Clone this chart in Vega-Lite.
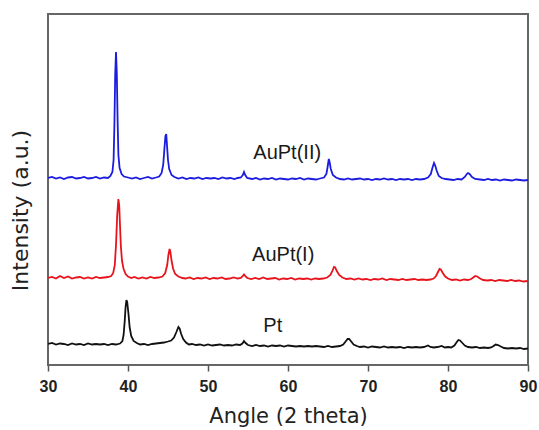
{
  "$schema": "https://vega.github.io/schema/vega-lite/v6.json",
  "width": 480,
  "height": 351,
  "autosize": {"type": "none"},
  "padding": {"left": 48, "top": 14, "right": 11, "bottom": 65},
  "config": {
    "view": {"stroke": "#666666", "strokeWidth": 2},
    "font": "Liberation Sans"
  },
  "layer": [
    {
      "data": {
        "values": [
          {"s":"AuPt(II)","x":30,"y":187},{"s":"AuPt(II)","x":30.5,"y":188},{"s":"AuPt(II)","x":31,"y":186.5},{"s":"AuPt(II)","x":31.5,"y":187.5},{"s":"AuPt(II)","x":32,"y":186},{"s":"AuPt(II)","x":32.5,"y":187.5},{"s":"AuPt(II)","x":33,"y":188},{"s":"AuPt(II)","x":33.5,"y":186.5},{"s":"AuPt(II)","x":34,"y":187},{"s":"AuPt(II)","x":34.5,"y":188},{"s":"AuPt(II)","x":35,"y":186.5},{"s":"AuPt(II)","x":35.5,"y":187},{"s":"AuPt(II)","x":36,"y":188},{"s":"AuPt(II)","x":36.5,"y":186.5},{"s":"AuPt(II)","x":37,"y":187.5},{"s":"AuPt(II)","x":37.5,"y":187},
          {"s":"AuPt(II)","x":37.8,"y":189},{"s":"AuPt(II)","x":38.05,"y":193},{"s":"AuPt(II)","x":38.2,"y":205},{"s":"AuPt(II)","x":38.3,"y":240},{"s":"AuPt(II)","x":38.4,"y":290},{"s":"AuPt(II)","x":38.5,"y":313},{"s":"AuPt(II)","x":38.6,"y":292},{"s":"AuPt(II)","x":38.7,"y":245},{"s":"AuPt(II)","x":38.8,"y":210},{"s":"AuPt(II)","x":38.95,"y":197},{"s":"AuPt(II)","x":39.2,"y":191},{"s":"AuPt(II)","x":39.5,"y":188.5},
          {"s":"AuPt(II)","x":40,"y":187.5},{"s":"AuPt(II)","x":40.5,"y":186.5},{"s":"AuPt(II)","x":41,"y":187.5},{"s":"AuPt(II)","x":41.5,"y":186},{"s":"AuPt(II)","x":42,"y":187},{"s":"AuPt(II)","x":42.5,"y":188},{"s":"AuPt(II)","x":43,"y":186.5},{"s":"AuPt(II)","x":43.5,"y":187.5},
          {"s":"AuPt(II)","x":43.9,"y":188.5},{"s":"AuPt(II)","x":44.2,"y":192},{"s":"AuPt(II)","x":44.4,"y":200},{"s":"AuPt(II)","x":44.55,"y":216},{"s":"AuPt(II)","x":44.68,"y":229},{"s":"AuPt(II)","x":44.78,"y":231},{"s":"AuPt(II)","x":44.88,"y":219},{"s":"AuPt(II)","x":45.0,"y":205},{"s":"AuPt(II)","x":45.15,"y":196},{"s":"AuPt(II)","x":45.45,"y":190},{"s":"AuPt(II)","x":45.8,"y":188},
          {"s":"AuPt(II)","x":46.3,"y":186.5},{"s":"AuPt(II)","x":46.8,"y":187.5},{"s":"AuPt(II)","x":47.3,"y":186},{"s":"AuPt(II)","x":47.8,"y":187},{"s":"AuPt(II)","x":48.3,"y":186.5},{"s":"AuPt(II)","x":48.8,"y":187.5},{"s":"AuPt(II)","x":49.3,"y":186},{"s":"AuPt(II)","x":49.8,"y":187},{"s":"AuPt(II)","x":50.3,"y":186.5},{"s":"AuPt(II)","x":50.8,"y":187},{"s":"AuPt(II)","x":51.3,"y":186},{"s":"AuPt(II)","x":51.8,"y":187.5},{"s":"AuPt(II)","x":52.3,"y":186.5},{"s":"AuPt(II)","x":52.8,"y":187},{"s":"AuPt(II)","x":53.3,"y":186},{"s":"AuPt(II)","x":53.7,"y":187},
          {"s":"AuPt(II)","x":54.1,"y":187.5},{"s":"AuPt(II)","x":54.35,"y":190},{"s":"AuPt(II)","x":54.5,"y":193},{"s":"AuPt(II)","x":54.65,"y":190},{"s":"AuPt(II)","x":54.9,"y":187},
          {"s":"AuPt(II)","x":55.5,"y":186},{"s":"AuPt(II)","x":56,"y":187},{"s":"AuPt(II)","x":56.5,"y":185.5},{"s":"AuPt(II)","x":57,"y":186.5},{"s":"AuPt(II)","x":57.5,"y":186},{"s":"AuPt(II)","x":58,"y":187},{"s":"AuPt(II)","x":58.5,"y":185.5},{"s":"AuPt(II)","x":59,"y":186.5},{"s":"AuPt(II)","x":59.5,"y":186},{"s":"AuPt(II)","x":60,"y":185.5},{"s":"AuPt(II)","x":60.5,"y":186.5},{"s":"AuPt(II)","x":61,"y":186},{"s":"AuPt(II)","x":61.5,"y":187},{"s":"AuPt(II)","x":62,"y":185.5},{"s":"AuPt(II)","x":62.5,"y":186.5},{"s":"AuPt(II)","x":63,"y":186},{"s":"AuPt(II)","x":63.5,"y":185.5},{"s":"AuPt(II)","x":64,"y":186.5},
          {"s":"AuPt(II)","x":64.5,"y":187.5},{"s":"AuPt(II)","x":64.8,"y":191},{"s":"AuPt(II)","x":64.95,"y":198},{"s":"AuPt(II)","x":65.1,"y":206},{"s":"AuPt(II)","x":65.2,"y":203},{"s":"AuPt(II)","x":65.35,"y":196},{"s":"AuPt(II)","x":65.6,"y":190},{"s":"AuPt(II)","x":66.0,"y":187.5},
          {"s":"AuPt(II)","x":66.5,"y":186},{"s":"AuPt(II)","x":67,"y":185.5},{"s":"AuPt(II)","x":67.5,"y":186.5},{"s":"AuPt(II)","x":68,"y":185.5},{"s":"AuPt(II)","x":68.5,"y":186},{"s":"AuPt(II)","x":69,"y":186.5},{"s":"AuPt(II)","x":69.5,"y":185.5},{"s":"AuPt(II)","x":70,"y":186},{"s":"AuPt(II)","x":70.5,"y":185},{"s":"AuPt(II)","x":71,"y":186},{"s":"AuPt(II)","x":71.5,"y":185.5},{"s":"AuPt(II)","x":72,"y":186.5},{"s":"AuPt(II)","x":72.5,"y":185.5},{"s":"AuPt(II)","x":73,"y":186},{"s":"AuPt(II)","x":73.5,"y":185},{"s":"AuPt(II)","x":74,"y":186},{"s":"AuPt(II)","x":74.5,"y":185.5},{"s":"AuPt(II)","x":75,"y":186},{"s":"AuPt(II)","x":75.5,"y":185},{"s":"AuPt(II)","x":76,"y":186},{"s":"AuPt(II)","x":76.5,"y":185.5},{"s":"AuPt(II)","x":77,"y":186},
          {"s":"AuPt(II)","x":77.5,"y":187.5},{"s":"AuPt(II)","x":77.85,"y":191},{"s":"AuPt(II)","x":78.05,"y":197},{"s":"AuPt(II)","x":78.25,"y":202},{"s":"AuPt(II)","x":78.4,"y":199.5},{"s":"AuPt(II)","x":78.6,"y":194},{"s":"AuPt(II)","x":78.85,"y":189},{"s":"AuPt(II)","x":79.2,"y":187},
          {"s":"AuPt(II)","x":79.7,"y":186},{"s":"AuPt(II)","x":80.2,"y":185.5},{"s":"AuPt(II)","x":80.7,"y":185},{"s":"AuPt(II)","x":81.2,"y":186},{"s":"AuPt(II)","x":81.7,"y":185.5},
          {"s":"AuPt(II)","x":82.1,"y":188},{"s":"AuPt(II)","x":82.35,"y":191},{"s":"AuPt(II)","x":82.5,"y":192},{"s":"AuPt(II)","x":82.7,"y":191},{"s":"AuPt(II)","x":83.0,"y":188},{"s":"AuPt(II)","x":83.4,"y":186},
          {"s":"AuPt(II)","x":84,"y":185.5},{"s":"AuPt(II)","x":84.5,"y":185},{"s":"AuPt(II)","x":85,"y":186},{"s":"AuPt(II)","x":85.5,"y":185},{"s":"AuPt(II)","x":86,"y":185.5},{"s":"AuPt(II)","x":86.5,"y":184.5},{"s":"AuPt(II)","x":87,"y":185.5},{"s":"AuPt(II)","x":87.5,"y":185},{"s":"AuPt(II)","x":88,"y":184.5},{"s":"AuPt(II)","x":88.5,"y":185.5},{"s":"AuPt(II)","x":89,"y":185},{"s":"AuPt(II)","x":89.5,"y":184.5},{"s":"AuPt(II)","x":90,"y":185},

          {"s":"AuPt(I)","x":30,"y":87},{"s":"AuPt(I)","x":30.5,"y":88},{"s":"AuPt(I)","x":31,"y":86.5},{"s":"AuPt(I)","x":31.5,"y":89},{"s":"AuPt(I)","x":32,"y":87},{"s":"AuPt(I)","x":32.5,"y":88.5},{"s":"AuPt(I)","x":33,"y":86.5},{"s":"AuPt(I)","x":33.5,"y":87.5},{"s":"AuPt(I)","x":34,"y":88},{"s":"AuPt(I)","x":34.5,"y":86.5},{"s":"AuPt(I)","x":35,"y":87.5},{"s":"AuPt(I)","x":35.5,"y":86.5},{"s":"AuPt(I)","x":36,"y":88},{"s":"AuPt(I)","x":36.5,"y":87},{"s":"AuPt(I)","x":37,"y":87.5},{"s":"AuPt(I)","x":37.5,"y":88},
          {"s":"AuPt(I)","x":37.9,"y":89},{"s":"AuPt(I)","x":38.15,"y":92},{"s":"AuPt(I)","x":38.35,"y":100},{"s":"AuPt(I)","x":38.5,"y":120},{"s":"AuPt(I)","x":38.65,"y":150},{"s":"AuPt(I)","x":38.8,"y":166},{"s":"AuPt(I)","x":38.9,"y":160},{"s":"AuPt(I)","x":39.0,"y":140},{"s":"AuPt(I)","x":39.1,"y":120},{"s":"AuPt(I)","x":39.25,"y":104},{"s":"AuPt(I)","x":39.45,"y":96},{"s":"AuPt(I)","x":39.7,"y":91},{"s":"AuPt(I)","x":40.0,"y":88.5},
          {"s":"AuPt(I)","x":40.4,"y":87},{"s":"AuPt(I)","x":40.8,"y":88},{"s":"AuPt(I)","x":41.3,"y":86.5},{"s":"AuPt(I)","x":41.8,"y":87.5},{"s":"AuPt(I)","x":42.3,"y":86.5},{"s":"AuPt(I)","x":42.8,"y":88},{"s":"AuPt(I)","x":43.3,"y":87},{"s":"AuPt(I)","x":43.8,"y":87.5},
          {"s":"AuPt(I)","x":44.3,"y":88.5},{"s":"AuPt(I)","x":44.65,"y":92},{"s":"AuPt(I)","x":44.9,"y":100},{"s":"AuPt(I)","x":45.05,"y":110},{"s":"AuPt(I)","x":45.2,"y":116},{"s":"AuPt(I)","x":45.3,"y":113},{"s":"AuPt(I)","x":45.45,"y":104},{"s":"AuPt(I)","x":45.65,"y":96},{"s":"AuPt(I)","x":45.9,"y":91},{"s":"AuPt(I)","x":46.3,"y":88.5},
          {"s":"AuPt(I)","x":46.8,"y":87},{"s":"AuPt(I)","x":47.2,"y":86.5},{"s":"AuPt(I)","x":47.7,"y":87.5},{"s":"AuPt(I)","x":48.2,"y":86},{"s":"AuPt(I)","x":48.7,"y":87},{"s":"AuPt(I)","x":49.2,"y":86.5},{"s":"AuPt(I)","x":49.7,"y":87.5},{"s":"AuPt(I)","x":50.2,"y":86},{"s":"AuPt(I)","x":50.7,"y":87},{"s":"AuPt(I)","x":51.2,"y":86.5},{"s":"AuPt(I)","x":51.7,"y":87.5},{"s":"AuPt(I)","x":52.2,"y":86},{"s":"AuPt(I)","x":52.7,"y":86.5},{"s":"AuPt(I)","x":53.2,"y":87.5},{"s":"AuPt(I)","x":53.7,"y":86.5},
          {"s":"AuPt(I)","x":54.1,"y":87},{"s":"AuPt(I)","x":54.35,"y":89},{"s":"AuPt(I)","x":54.5,"y":90.5},{"s":"AuPt(I)","x":54.65,"y":89},{"s":"AuPt(I)","x":54.9,"y":87},
          {"s":"AuPt(I)","x":55.4,"y":86},{"s":"AuPt(I)","x":55.9,"y":87},{"s":"AuPt(I)","x":56.4,"y":86},{"s":"AuPt(I)","x":56.9,"y":87.5},{"s":"AuPt(I)","x":57.4,"y":86},{"s":"AuPt(I)","x":57.9,"y":86.5},{"s":"AuPt(I)","x":58.4,"y":87},{"s":"AuPt(I)","x":58.9,"y":85.5},{"s":"AuPt(I)","x":59.4,"y":86.5},{"s":"AuPt(I)","x":59.9,"y":86},{"s":"AuPt(I)","x":60.4,"y":87},{"s":"AuPt(I)","x":60.9,"y":85.5},{"s":"AuPt(I)","x":61.4,"y":86.5},{"s":"AuPt(I)","x":61.9,"y":86},{"s":"AuPt(I)","x":62.4,"y":86.5},{"s":"AuPt(I)","x":62.9,"y":85.5},{"s":"AuPt(I)","x":63.4,"y":86.5},{"s":"AuPt(I)","x":63.9,"y":86},{"s":"AuPt(I)","x":64.4,"y":86.5},
          {"s":"AuPt(I)","x":64.9,"y":87.5},{"s":"AuPt(I)","x":65.3,"y":90},{"s":"AuPt(I)","x":65.55,"y":94},{"s":"AuPt(I)","x":65.75,"y":98},{"s":"AuPt(I)","x":65.9,"y":97.5},{"s":"AuPt(I)","x":66.1,"y":94},{"s":"AuPt(I)","x":66.4,"y":90},{"s":"AuPt(I)","x":66.8,"y":87.5},
          {"s":"AuPt(I)","x":67.3,"y":86},{"s":"AuPt(I)","x":67.8,"y":86.5},{"s":"AuPt(I)","x":68.3,"y":85.5},{"s":"AuPt(I)","x":68.8,"y":86.5},{"s":"AuPt(I)","x":69.3,"y":85.5},{"s":"AuPt(I)","x":69.8,"y":86},{"s":"AuPt(I)","x":70.3,"y":85},{"s":"AuPt(I)","x":70.8,"y":86},{"s":"AuPt(I)","x":71.3,"y":85.5},{"s":"AuPt(I)","x":71.8,"y":86.5},{"s":"AuPt(I)","x":72.3,"y":85},{"s":"AuPt(I)","x":72.8,"y":86},{"s":"AuPt(I)","x":73.3,"y":85.5},{"s":"AuPt(I)","x":73.8,"y":85},{"s":"AuPt(I)","x":74.3,"y":86},{"s":"AuPt(I)","x":74.8,"y":85},{"s":"AuPt(I)","x":75.3,"y":85.5},{"s":"AuPt(I)","x":75.8,"y":86},{"s":"AuPt(I)","x":76.3,"y":85},{"s":"AuPt(I)","x":76.8,"y":85.5},{"s":"AuPt(I)","x":77.3,"y":85},{"s":"AuPt(I)","x":77.8,"y":85.5},
          {"s":"AuPt(I)","x":78.2,"y":86.5},{"s":"AuPt(I)","x":78.5,"y":89},{"s":"AuPt(I)","x":78.75,"y":93},{"s":"AuPt(I)","x":78.95,"y":96},{"s":"AuPt(I)","x":79.1,"y":95.5},{"s":"AuPt(I)","x":79.35,"y":92},{"s":"AuPt(I)","x":79.65,"y":88.5},{"s":"AuPt(I)","x":80.0,"y":86.5},
          {"s":"AuPt(I)","x":80.5,"y":85},{"s":"AuPt(I)","x":81,"y":85.5},{"s":"AuPt(I)","x":81.5,"y":84.5},{"s":"AuPt(I)","x":82,"y":85.5},{"s":"AuPt(I)","x":82.5,"y":85},
          {"s":"AuPt(I)","x":82.9,"y":86},{"s":"AuPt(I)","x":83.15,"y":87.5},{"s":"AuPt(I)","x":83.4,"y":89},{"s":"AuPt(I)","x":83.65,"y":88.5},{"s":"AuPt(I)","x":84.0,"y":86.5},{"s":"AuPt(I)","x":84.4,"y":85},
          {"s":"AuPt(I)","x":84.9,"y":84.5},{"s":"AuPt(I)","x":85.4,"y":85},{"s":"AuPt(I)","x":85.9,"y":84},{"s":"AuPt(I)","x":86.4,"y":85},{"s":"AuPt(I)","x":86.9,"y":84.5},{"s":"AuPt(I)","x":87.4,"y":84},{"s":"AuPt(I)","x":87.9,"y":85},{"s":"AuPt(I)","x":88.4,"y":84},{"s":"AuPt(I)","x":88.9,"y":84.5},{"s":"AuPt(I)","x":89.4,"y":83.5},{"s":"AuPt(I)","x":90,"y":84},

          {"s":"Pt","x":30,"y":21},{"s":"Pt","x":30.5,"y":22},{"s":"Pt","x":31,"y":20.5},{"s":"Pt","x":31.5,"y":21.5},{"s":"Pt","x":32,"y":21},{"s":"Pt","x":32.5,"y":20},{"s":"Pt","x":33,"y":21.5},{"s":"Pt","x":33.5,"y":20.5},{"s":"Pt","x":34,"y":21},{"s":"Pt","x":34.5,"y":20},{"s":"Pt","x":35,"y":21.5},{"s":"Pt","x":35.5,"y":20.5},{"s":"Pt","x":36,"y":21},{"s":"Pt","x":36.5,"y":20.5},{"s":"Pt","x":37,"y":21},{"s":"Pt","x":37.5,"y":20},{"s":"Pt","x":38,"y":21},{"s":"Pt","x":38.5,"y":20.5},{"s":"Pt","x":39,"y":21.5},
          {"s":"Pt","x":39.3,"y":24},{"s":"Pt","x":39.45,"y":30},{"s":"Pt","x":39.6,"y":45},{"s":"Pt","x":39.7,"y":58},{"s":"Pt","x":39.8,"y":65},{"s":"Pt","x":39.9,"y":63},{"s":"Pt","x":40.05,"y":52},{"s":"Pt","x":40.2,"y":38},{"s":"Pt","x":40.4,"y":29},{"s":"Pt","x":40.7,"y":24},{"s":"Pt","x":41.1,"y":22},
          {"s":"Pt","x":41.5,"y":20.5},{"s":"Pt","x":42,"y":21},{"s":"Pt","x":42.5,"y":20},{"s":"Pt","x":43,"y":21},{"s":"Pt","x":43.5,"y":21.5},{"s":"Pt","x":44,"y":22},{"s":"Pt","x":44.5,"y":22.5},{"s":"Pt","x":45,"y":23.5},
          {"s":"Pt","x":45.4,"y":24.5},{"s":"Pt","x":45.75,"y":27.5},{"s":"Pt","x":46.05,"y":33},{"s":"Pt","x":46.3,"y":38},{"s":"Pt","x":46.45,"y":36.5},{"s":"Pt","x":46.65,"y":31},{"s":"Pt","x":46.9,"y":26},{"s":"Pt","x":47.25,"y":22.5},
          {"s":"Pt","x":47.6,"y":20.5},{"s":"Pt","x":48,"y":21},{"s":"Pt","x":48.5,"y":20},{"s":"Pt","x":49,"y":20.5},{"s":"Pt","x":49.5,"y":19.5},{"s":"Pt","x":50,"y":20.5},{"s":"Pt","x":50.5,"y":19.5},{"s":"Pt","x":51,"y":20},{"s":"Pt","x":51.5,"y":20.5},{"s":"Pt","x":52,"y":19.5},{"s":"Pt","x":52.5,"y":20},{"s":"Pt","x":53,"y":19.5},{"s":"Pt","x":53.5,"y":20.5},{"s":"Pt","x":54,"y":20},
          {"s":"Pt","x":54.3,"y":21.5},{"s":"Pt","x":54.5,"y":24},{"s":"Pt","x":54.7,"y":22},{"s":"Pt","x":55.0,"y":20},
          {"s":"Pt","x":55.5,"y":19},{"s":"Pt","x":56,"y":20},{"s":"Pt","x":56.5,"y":19},{"s":"Pt","x":57,"y":19.5},{"s":"Pt","x":57.5,"y":18.5},{"s":"Pt","x":58,"y":19.5},{"s":"Pt","x":58.5,"y":19},{"s":"Pt","x":59,"y":19.5},{"s":"Pt","x":59.5,"y":18.5},{"s":"Pt","x":60,"y":19.5},{"s":"Pt","x":60.5,"y":19},{"s":"Pt","x":61,"y":18.5},{"s":"Pt","x":61.5,"y":19},{"s":"Pt","x":62,"y":18.5},{"s":"Pt","x":62.5,"y":19},{"s":"Pt","x":63,"y":18.5},{"s":"Pt","x":63.5,"y":19},{"s":"Pt","x":64,"y":18.5},{"s":"Pt","x":64.5,"y":18},{"s":"Pt","x":65,"y":19},{"s":"Pt","x":65.5,"y":18},{"s":"Pt","x":66,"y":18.5},{"s":"Pt","x":66.5,"y":19},
          {"s":"Pt","x":66.9,"y":20.5},{"s":"Pt","x":67.2,"y":23.5},{"s":"Pt","x":67.45,"y":26},{"s":"Pt","x":67.65,"y":26},{"s":"Pt","x":67.9,"y":23.5},{"s":"Pt","x":68.2,"y":20.5},{"s":"Pt","x":68.6,"y":19},
          {"s":"Pt","x":69,"y":18},{"s":"Pt","x":69.5,"y":18.5},{"s":"Pt","x":70,"y":17.5},{"s":"Pt","x":70.5,"y":18.5},{"s":"Pt","x":71,"y":18},{"s":"Pt","x":71.5,"y":17.5},{"s":"Pt","x":72,"y":18.5},{"s":"Pt","x":72.5,"y":17.5},{"s":"Pt","x":73,"y":18},{"s":"Pt","x":73.5,"y":17.5},{"s":"Pt","x":74,"y":18},{"s":"Pt","x":74.5,"y":17},{"s":"Pt","x":75,"y":18},{"s":"Pt","x":75.5,"y":17.5},{"s":"Pt","x":76,"y":18},{"s":"Pt","x":76.5,"y":17.5},{"s":"Pt","x":77,"y":18},{"s":"Pt","x":77.5,"y":19.5},{"s":"Pt","x":77.8,"y":18},{"s":"Pt","x":78.2,"y":17.5},{"s":"Pt","x":78.7,"y":18},{"s":"Pt","x":79.2,"y":19},{"s":"Pt","x":79.6,"y":17.5},{"s":"Pt","x":80,"y":18},{"s":"Pt","x":80.4,"y":17.5},
          {"s":"Pt","x":80.8,"y":19.5},{"s":"Pt","x":81.1,"y":23},{"s":"Pt","x":81.3,"y":25},{"s":"Pt","x":81.5,"y":24.5},{"s":"Pt","x":81.8,"y":22},{"s":"Pt","x":82.1,"y":19.5},{"s":"Pt","x":82.5,"y":18},
          {"s":"Pt","x":83,"y":17.5},{"s":"Pt","x":83.5,"y":18},{"s":"Pt","x":84,"y":17},{"s":"Pt","x":84.5,"y":17.5},{"s":"Pt","x":85,"y":17},{"s":"Pt","x":85.4,"y":17.5},
          {"s":"Pt","x":85.7,"y":19},{"s":"Pt","x":85.95,"y":20.5},{"s":"Pt","x":86.25,"y":20},{"s":"Pt","x":86.6,"y":18.5},{"s":"Pt","x":87,"y":17},{"s":"Pt","x":87.5,"y":16.5},{"s":"Pt","x":88,"y":17},{"s":"Pt","x":88.5,"y":16.5},{"s":"Pt","x":89,"y":17},{"s":"Pt","x":89.5,"y":16},{"s":"Pt","x":90,"y":16.5}
        ]
      },
      "mark": {"type": "line", "strokeWidth": 1.8, "clip": true},
      "encoding": {
        "x": {
          "field": "x",
          "type": "quantitative",
          "scale": {"domain": [30, 90], "nice": false, "zero": false},
          "axis": {
            "title": "Angle (2 theta)",
            "titleFont": "DejaVu Sans",
            "titleFontSize": 21,
            "titleFontWeight": "normal",
            "titleColor": "#222222",
            "titlePadding": 11,
            "values": [30, 35, 40, 45, 50, 55, 60, 65, 70, 75, 80, 85, 90],
            "labelExpr": "datum.value % 10 === 0 ? datum.label : ''",
            "labelFontSize": 16,
            "labelFontWeight": "bold",
            "labelColor": "#222222",
            "labelPadding": 7,
            "labelFlush": false,
            "tickSize": {"condition": {"test": "datum.value % 10 === 0", "value": 6}, "value": 4},
            "tickColor": "#555555",
            "tickWidth": 1.5,
            "domain": false,
            "grid": false
          }
        },
        "y": {
          "field": "y",
          "type": "quantitative",
          "scale": {"domain": [0, 351], "nice": false, "zero": false},
          "axis": {
            "title": "Intensity (a.u.)",
            "titleFont": "DejaVu Sans",
            "titleFontSize": 22,
            "titleFontWeight": "normal",
            "titleColor": "#222222",
            "titlePadding": 16,
            "titleY": 196,
            "labels": false,
            "ticks": false,
            "domain": false,
            "grid": false
          }
        },
        "color": {
          "field": "s",
          "type": "nominal",
          "scale": {"domain": ["Pt", "AuPt(I)", "AuPt(II)"], "range": ["#111111", "#e8141c", "#1c1ce0"]},
          "legend": null
        }
      }
    },
    {
      "data": {
        "values": [
          {"x": 59.9, "y": 212, "t": "AuPt(II)"},
          {"x": 59.4, "y": 110, "t": "AuPt(I)"},
          {"x": 58.1, "y": 39, "t": "Pt"}
        ]
      },
      "mark": {"type": "text", "fontSize": 20, "font": "Liberation Sans", "color": "#1a1a1a", "align": "center", "baseline": "middle"},
      "encoding": {
        "x": {"field": "x", "type": "quantitative"},
        "y": {"field": "y", "type": "quantitative"},
        "text": {"field": "t"}
      }
    }
  ]
}
